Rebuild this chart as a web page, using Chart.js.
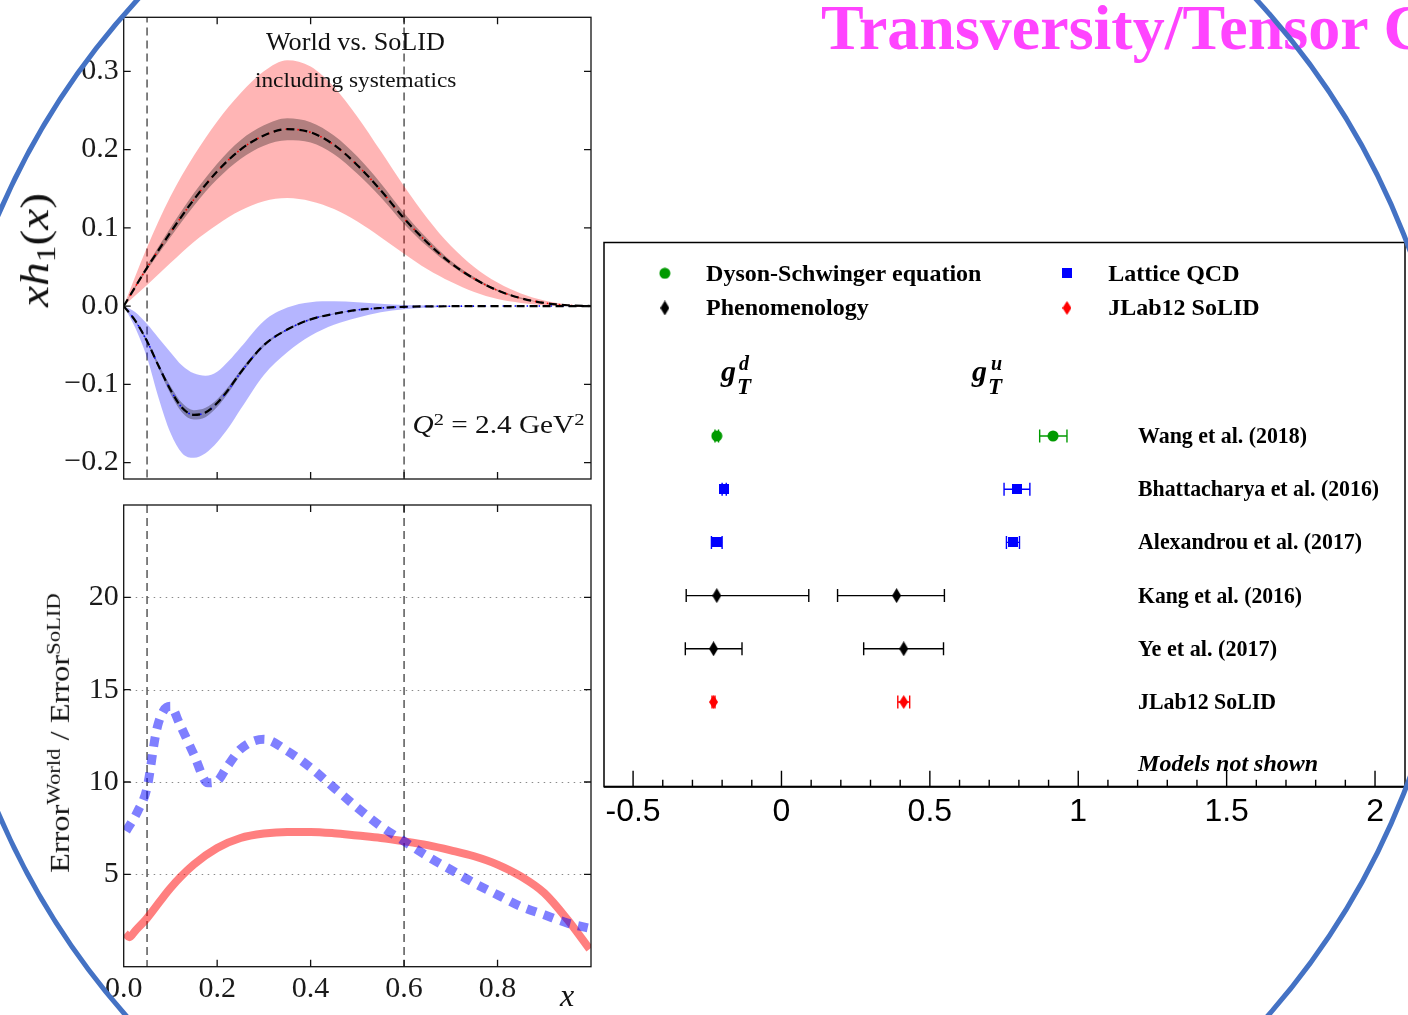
<!DOCTYPE html>
<html><head><meta charset="utf-8">
<script src="https://cdn.jsdelivr.net/npm/chart.js@4.4.0/dist/chart.umd.min.js"></script>
<style>
html,body{margin:0;padding:0;background:#fff;}
#page{position:relative;width:1408px;height:1015px;overflow:hidden;background:#fff;}
canvas{position:absolute;}
.t{position:absolute;white-space:nowrap;line-height:1;font-family:"Liberation Serif",serif;color:#111;}
.sup{font-size:0.7em;position:relative;top:-0.45em;}
.sub{font-size:0.7em;position:relative;top:0.25em;}
</style></head><body><div id="page">
<canvas id="c1" width="600" height="490" style="left:0;top:0"></canvas>
<canvas id="c2" width="600" height="525" style="left:0;top:490px"></canvas>
<canvas id="c3" width="808" height="600" style="left:600px;top:230px"></canvas>

<div class="t" style="left:821px;top:-3.6px;font-size:64px;font-weight:bold;color:#FF44FF;">Transversity/Tensor C</div>

<div class="t" data-cx="355" data-cy="41.5" data-w="179" style="font-size:25px;">World vs. SoLID</div>
<div class="t" data-cx="355" data-cy="80" data-w="201" style="font-size:21px;">including systematics</div>
<div class="t" data-cx="498" data-cy="424" data-w="172" style="font-size:25px;"><i>Q</i><span class="sup">2</span> = 2.4 GeV<span class="sup">2</span></div>
<div class="t" data-cx="35" data-cy="250" data-w="114" data-rot="-90" style="font-size:40px;"><i>xh</i><span class="sub">1</span>(<i>x</i>)</div>
<div class="t" data-cx="60" data-cy="733" data-w="280" data-rot="-90" style="font-size:28px;">Error<span class="sup">World</span> / Error<span class="sup">SoLID</span></div>
<div class="t" data-cx="567" data-cy="995" style="font-size:32px;"><i>x</i></div>

<div class="t" style="left:721px;top:355.9px;font-size:30px;font-weight:bold;font-style:italic;color:#000;">g</div>
<div class="t" style="left:737px;top:374.9px;font-size:23px;font-weight:bold;font-style:italic;color:#000;">T</div>
<div class="t" style="left:739px;top:353.3px;font-size:20px;font-weight:bold;font-style:italic;color:#000;">d</div>
<div class="t" style="left:972px;top:355.9px;font-size:30px;font-weight:bold;font-style:italic;color:#000;">g</div>
<div class="t" style="left:988px;top:374.9px;font-size:23px;font-weight:bold;font-style:italic;color:#000;">T</div>
<div class="t" style="left:991px;top:353.3px;font-size:20px;font-weight:bold;font-style:italic;color:#000;">u</div>

<svg width="1408" height="1015" style="position:absolute;left:0;top:0;pointer-events:none">
<circle cx="697" cy="514" r="760" fill="none" stroke="#4472C4" stroke-width="5"/>
</svg>
</div>
<script>
// ================= DATA =================
// top panel: x*h1(x), u quark (positive) and d quark (negative)
const uX       = [0,0.05,0.1,0.15,0.2,0.25,0.3,0.35,0.4,0.45,0.5,0.55,0.6,0.65,0.7,0.75,0.8,0.85,0.9,0.95,1.0];
const uCentral = [0,0.049,0.094,0.136,0.172,0.200,0.218,0.226,0.222,0.206,0.180,0.148,0.112,0.081,0.055,0.035,0.020,0.010,0.004,0.001,0];
const uWorldHi = [0,0.075,0.140,0.192,0.236,0.272,0.300,0.314,0.306,0.280,0.242,0.198,0.153,0.112,0.077,0.050,0.030,0.016,0.007,0.002,0];
const uWorldLo = [0,0.027,0.055,0.082,0.104,0.122,0.134,0.138,0.134,0.124,0.108,0.088,0.067,0.047,0.031,0.018,0.009,0.004,0.001,0,0];
const uSolidHi = [0,0.052,0.100,0.144,0.182,0.212,0.231,0.240,0.235,0.218,0.191,0.157,0.119,0.086,0.058,0.037,0.021,0.011,0.004,0.001,0];
const uSolidLo = [0,0.046,0.088,0.128,0.162,0.188,0.205,0.212,0.209,0.194,0.169,0.139,0.105,0.076,0.052,0.033,0.019,0.009,0.004,0.001,0];

const dX       = [0,0.025,0.05,0.075,0.1,0.125,0.15,0.175,0.2,0.225,0.25,0.3,0.35,0.4,0.45,0.5,0.55,0.6,0.7,0.8,0.9,1.0];
const dCentral = [0,-0.019,-0.045,-0.077,-0.107,-0.130,-0.139,-0.136,-0.124,-0.106,-0.085,-0.050,-0.030,-0.017,-0.010,-0.005,-0.0025,-0.001,-0.0002,0,0,0];
const dWorldHi = [0,-0.008,-0.023,-0.041,-0.059,-0.076,-0.086,-0.089,-0.084,-0.070,-0.053,-0.019,-0.002,0.005,0.006,0.005,0.003,0.0015,0.0003,0,0,0];
const dWorldLo = [0,-0.028,-0.066,-0.118,-0.162,-0.188,-0.194,-0.188,-0.174,-0.155,-0.132,-0.088,-0.059,-0.038,-0.024,-0.015,-0.008,-0.004,-0.001,0,0,0];
const dSolidHi = [0,-0.018,-0.043,-0.074,-0.102,-0.124,-0.133,-0.130,-0.119,-0.102,-0.082,-0.048,-0.029,-0.016,-0.0096,-0.0048,-0.0024,-0.001,-0.0002,0,0,0];
const dSolidLo = [0,-0.020,-0.047,-0.080,-0.112,-0.136,-0.145,-0.142,-0.129,-0.110,-0.088,-0.052,-0.031,-0.018,-0.0104,-0.0052,-0.0026,-0.001,-0.0002,0,0,0];

const cutX = [0.05, 0.6];
const topYTicks = [-0.2,-0.1,0,0.1,0.2,0.3];
const panelXTicks = [0.2,0.4,0.6,0.8];

// bottom panel: Error(World)/Error(SoLID)
const uRatioX = [0.003,0.012,0.025,0.05,0.1,0.15,0.2,0.25,0.3,0.35,0.4,0.45,0.5,0.55,0.6,0.65,0.7,0.75,0.8,0.85,0.9,0.95,0.997];
const uRatio  = [1.8,1.6,1.95,2.63,4.26,5.53,6.43,6.97,7.21,7.30,7.30,7.23,7.10,6.97,6.79,6.58,6.30,5.98,5.53,4.89,3.99,2.54,0.95];
const dRatioX = [0.005,0.03,0.05,0.07,0.085,0.1,0.12,0.15,0.18,0.2,0.22,0.25,0.3,0.35,0.4,0.45,0.5,0.55,0.6,0.65,0.7,0.75,0.8,0.85,0.9,0.95,0.997];
const dRatio  = [7.34,8.42,9.69,12.77,13.85,14.1,13.13,11.5,9.96,10.05,10.78,11.78,12.32,11.68,10.78,9.69,8.61,7.61,6.79,5.98,5.25,4.53,3.89,3.26,2.81,2.36,2.08];
const botXTickLabels = [0,0.2,0.4,0.6,0.8];
const botYTicks = [5,10,15,20];

// right panel: tensor charges
const refs  = ["Wang et al. (2018)","Bhattacharya et al. (2016)","Alexandrou et al. (2017)","Kang et al. (2016)","Ye et al. (2017)","JLab12 SoLID"];
const group = ["dse","lat","lat","phe","phe","sol"];
const gTd   = [-0.218,-0.193,-0.218,-0.218,-0.229,-0.229];
const gTdLo = [-0.224,-0.200,-0.236,-0.321,-0.324,-0.234];
const gTdHi = [-0.212,-0.186,-0.200,0.092,-0.133,-0.224];
const gTu   = [0.915,0.793,0.780,0.388,0.412,0.412];
const gTuLo = [0.870,0.750,0.758,0.189,0.277,0.392];
const gTuHi = [0.962,0.837,0.802,0.549,0.546,0.432];
const legendNames = {dse:"Dyson-Schwinger equation", lat:"Lattice QCD", phe:"Phenomenology", sol:"JLab12 SoLID"};
const rightMajorTicks = [-0.5,0,0.5,1,1.5,2];

// ================= STYLE / LAYOUT =================
const groupColor = {dse:"#009a00", lat:"#0000ff", phe:"#000000", sol:"#ff0000"};
const legendLayout = [{g:"dse",mx:-0.393,tx:-0.254,y:-3.058},{g:"lat",mx:0.962,tx:1.101,y:-3.058},
                      {g:"phe",mx:-0.393,tx:-0.254,y:-2.406},{g:"sol",mx:0.962,tx:1.101,y:-2.406}];
const rowLabelX = 1.2015, rowLabelW = [169,241,224,164,139,138];

Chart.defaults.animation = false;
Chart.defaults.events = [];
Chart.defaults.plugins.legend.display = false;
Chart.defaults.plugins.tooltip.enabled = false;

const pts = (xs, ys) => xs.map((x,i)=>({x, y: ys[i]}));
const fmt1 = v => (v < -1e-9 ? "\u2212" : "") + Math.abs(v).toFixed(1);
function noPad(s){ s.paddingTop=0; s.paddingBottom=0; s.paddingLeft=0; s.paddingRight=0; }

// point-style canvases
function mk(w,h,draw){const c=document.createElement('canvas');c.width=w;c.height=h;const x=c.getContext('2d');draw(x,w,h);return c;}
const markers = {
  dse: mk(12,12,(x)=>{x.fillStyle=groupColor.dse;x.beginPath();x.arc(6,6,5.5,0,Math.PI*2);x.fill();}),
  lat: mk(10,10,(x)=>{x.fillStyle=groupColor.lat;x.fillRect(0,0,10,10);}),
  phe: mk(9,15,(x)=>{x.fillStyle=groupColor.phe;x.beginPath();x.moveTo(4.5,0);x.lineTo(9,7.5);x.lineTo(4.5,15);x.lineTo(0,7.5);x.closePath();x.fill();}),
  sol: mk(9,14,(x)=>{x.fillStyle=groupColor.sol;x.beginPath();x.moveTo(4.5,0);x.lineTo(9,7);x.lineTo(4.5,14);x.lineTo(0,7);x.closePath();x.fill();})
};

// frame plugin: box, inward ticks, optional dotted grid
const framePlugin = {
  id:'frame',
  beforeDatasetsDraw(chart, args, o){
    if(!o.grid) return;
    const {ctx, chartArea:a, scales:{y}} = chart;
    ctx.save(); ctx.strokeStyle='#8a8a8a'; ctx.lineWidth=1.2; ctx.setLineDash([1.5,4.5]);
    ctx.beginPath();
    o.grid.forEach(v=>{const py=Math.round(y.getPixelForValue(v))+0.5; ctx.moveTo(a.left,py); ctx.lineTo(a.right,py);});
    ctx.stroke(); ctx.restore();
  },
  afterDatasetsDraw(chart, args, o){
    const {ctx, chartArea:a, scales:{x,y}} = chart;
    ctx.save(); ctx.strokeStyle='#111'; ctx.lineWidth=1.3; ctx.setLineDash([]);
    const tl = 7;
    ctx.beginPath();
    (o.xTicks||[]).forEach(v=>{const px=x.getPixelForValue(v);
      ctx.moveTo(px,a.bottom); ctx.lineTo(px,a.bottom-tl); ctx.moveTo(px,a.top); ctx.lineTo(px,a.top+tl);});
    (o.yTicks||[]).forEach(v=>{const py=y.getPixelForValue(v);
      ctx.moveTo(a.left,py); ctx.lineTo(a.left+tl,py); ctx.moveTo(a.right,py); ctx.lineTo(a.right-tl,py);});
    ctx.stroke();
    ctx.strokeRect(a.left,a.top,a.width,a.height);
    ctx.restore();
  }
};

// ================= TOP PANEL =================
const topDs = [];
cutX.forEach(v=>topDs.push({data:[{x:v,y:-1},{x:v,y:1}], borderColor:'rgba(0,0,0,0.55)', borderWidth:1.8, borderDash:[8,5], order:30, clip:0}));
function band(xs, lo, hi, color, order){
  topDs.push({data:pts(xs,lo), borderColor:'transparent', borderWidth:1, fill:false, order, cubicInterpolationMode:'monotone'});
  topDs.push({data:pts(xs,hi), borderColor:'transparent', borderWidth:1, fill:'-1', backgroundColor:color, order, cubicInterpolationMode:'monotone'});
}
band(uX,uWorldLo,uWorldHi,'rgba(255,0,0,0.29)',20);
band(dX,dWorldLo,dWorldHi,'rgba(0,0,255,0.29)',20);
band(uX,uSolidLo,uSolidHi,'rgba(0,0,0,0.30)',10);
band(dX,dSolidLo,dSolidHi,'rgba(0,0,0,0.30)',10);
topDs.push({data:pts(uX,uCentral), borderColor:'#ff0000', borderWidth:1.6, borderDash:[1.5,4.5], order:3, cubicInterpolationMode:'monotone'});
topDs.push({data:pts(dX,dCentral), borderColor:'#0000ff', borderWidth:1.6, borderDash:[1.5,4.5], order:3, cubicInterpolationMode:'monotone'});
topDs.push({data:pts(uX,uCentral), borderColor:'#000', borderWidth:2.2, borderDash:[8,5], order:2, cubicInterpolationMode:'monotone'});
topDs.push({data:pts(dX,dCentral), borderColor:'#000', borderWidth:2.2, borderDash:[8,5], order:2, cubicInterpolationMode:'monotone'});

const serifTick = {family:'Liberation Serif', size:30};
new Chart(document.getElementById('c1'), {
  type:'line', data:{datasets:topDs},
  options:{
    responsive:false, layout:{autoPadding:false, padding:{left:0,top:17.3,right:9,bottom:0}},
    elements:{point:{radius:0}},
    plugins:{frame:{xTicks:panelXTicks, yTicks:topYTicks}},
    scales:{
      x:{type:'linear',min:0,max:1,grid:{display:false,drawTicks:false},border:{display:false},ticks:{display:false},
         afterFit(s){s.height=11; noPad(s);}},
      y:{type:'linear',min:-0.221,max:0.369,grid:{display:false,drawTicks:false},border:{display:false},
         afterBuildTicks(s){s.ticks=topYTicks.map(v=>({value:v}));},
         ticks:{padding:5,color:'#1a1a1a',font:serifTick,callback:v=>fmt1(v)},
         afterFit(s){s.width=123.7; noPad(s);}}
    }
  },
  plugins:[framePlugin]
});

// ================= BOTTOM PANEL =================
const botDs = [];
cutX.forEach(v=>botDs.push({data:[{x:v,y:-5},{x:v,y:30}], borderColor:'rgba(0,0,0,0.55)', borderWidth:1.8, borderDash:[8,5], order:30, clip:0}));
botDs.push({data:pts(uRatioX,uRatio), borderColor:'rgba(255,0,0,0.5)', borderWidth:8, borderCapStyle:'butt', order:5, cubicInterpolationMode:'monotone'});
botDs.push({data:pts(dRatioX,dRatio), borderColor:'rgba(0,0,255,0.5)', borderWidth:9, borderDash:[10,8], borderCapStyle:'butt', order:4, cubicInterpolationMode:'monotone'});

new Chart(document.getElementById('c2'), {
  type:'line', data:{datasets:botDs},
  options:{
    responsive:false, layout:{autoPadding:false, padding:{left:0,top:15,right:9,bottom:0}},
    elements:{point:{radius:0}},
    plugins:{frame:{xTicks:panelXTicks, yTicks:botYTicks, grid:botYTicks}},
    scales:{
      x:{type:'linear',min:0,max:1,grid:{display:false,drawTicks:false},border:{display:false},
         afterBuildTicks(s){s.ticks=botXTickLabels.map(v=>({value:v}));},
         ticks:{padding:4,color:'#1a1a1a',font:serifTick,maxRotation:0,autoSkip:false,callback:v=>fmt1(v)},
         afterFit(s){s.height=48.3; noPad(s);}},
      y:{type:'linear',min:0,max:25,grid:{display:false,drawTicks:false},border:{display:false},
         afterBuildTicks(s){s.ticks=botYTicks.map(v=>({value:v}));},
         ticks:{padding:5,color:'#1a1a1a',font:serifTick,callback:v=>String(v)},
         afterFit(s){s.width=123.7; noPad(s);}}
    }
  },
  plugins:[framePlugin]
});

// ================= RIGHT PANEL =================
const rDs = [];
refs.forEach((r,i)=>{
  const col = groupColor[group[i]];
  [[gTdLo,gTdHi],[gTuLo,gTuHi]].forEach(([lo,hi])=>{
    rDs.push({data:[{x:lo[i],y:i},{x:hi[i],y:i}], borderColor:col, borderWidth:1.4, showLine:true,
      pointStyle:'line', pointRotation:90, pointRadius:6.5, pointBorderWidth:1.4, pointBorderColor:col, pointBackgroundColor:col, order:2});
  });
});
["dse","lat","phe","sol"].forEach(g=>{
  const data=[];
  refs.forEach((r,i)=>{ if(group[i]===g){ data.push({x:gTd[i],y:i}); data.push({x:gTu[i],y:i}); } });
  rDs.push({data, showLine:false, pointStyle:markers[g], pointRadius:6, order:1});
});

const rightDecor = {
  id:'rightDecor',
  afterDatasetsDraw(chart){
    const {ctx, chartArea:a, scales:{x,y}} = chart;
    ctx.save();
    ctx.strokeStyle='#000'; ctx.lineWidth=1.5; ctx.strokeRect(a.left,a.top,a.width,a.height);
    ctx.lineWidth=2; ctx.beginPath(); ctx.moveTo(a.left,a.bottom); ctx.lineTo(a.right,a.bottom); ctx.stroke();
    ctx.lineWidth=1.4; ctx.beginPath();
    for(let k=-5;k<=20;k++){ const px=x.getPixelForValue(k/10); const major=(k%5===0);
      ctx.moveTo(px,a.bottom); ctx.lineTo(px,a.bottom-(major?16:7)); }
    ctx.stroke();
    // legend
    ctx.fillStyle='#000'; ctx.textBaseline='alphabetic'; ctx.font='bold 24px "Liberation Serif"';
    legendLayout.forEach(L=>{
      const m=markers[L.g], px=x.getPixelForValue(L.mx), py=y.getPixelForValue(L.y);
      ctx.drawImage(m, px-m.width/2, py-m.height/2);
      ctx.fillText(legendNames[L.g], x.getPixelForValue(L.tx), py+7.5);
    });
    // row labels
    refs.forEach((r,i)=>{
      const px=x.getPixelForValue(rowLabelX), py=y.getPixelForValue(i)+7;
      const w=ctx.measureText(r).width;
      ctx.save(); ctx.translate(px,py); ctx.scale(rowLabelW[i]/w,1); ctx.fillText(r,0,0); ctx.restore();
    });
    ctx.font='italic bold 24px "Liberation Serif"';
    ctx.fillText('Models not shown', x.getPixelForValue(rowLabelX), y.getPixelForValue(6.297));
    ctx.restore();
  }
};

new Chart(document.getElementById('c3'), {
  type:'line', data:{datasets:rDs},
  options:{
    responsive:false, layout:{autoPadding:false, padding:{left:4,top:12.5,right:3,bottom:0}},
    scales:{
      x:{type:'linear',min:-0.598,max:2.101,grid:{display:false,drawTicks:false},border:{display:false},
         afterBuildTicks(s){s.ticks=rightMajorTicks.map(v=>({value:v}));},
         ticks:{padding:6,color:'#000',font:{family:'Liberation Sans',size:32},maxRotation:0,autoSkip:false,callback:v=>String(v)},
         afterFit(s){s.height=43.3; noPad(s);}},
      y:{type:'linear',reverse:true,min:-3.637,max:6.592,display:false}
    }
  },
  plugins:[rightDecor]
});

// ================= fit HTML labels =================
function place(){
  document.querySelectorAll('[data-cx]').forEach(el=>{
    el.style.transform='none'; el.style.left='0px'; el.style.top='0px';
    const w=el.offsetWidth, h=el.offsetHeight;
    const cx=+el.dataset.cx, cy=+el.dataset.cy;
    el.style.left=(cx-w/2)+'px'; el.style.top=(cy-h/2)+'px';
    let tr = el.dataset.rot ? `rotate(${el.dataset.rot}deg) ` : '';
    if(el.dataset.w) tr += `scaleX(${(+el.dataset.w)/w})`;
    el.style.transform = tr || 'none';
  });
}
place();
if(document.fonts && document.fonts.ready) document.fonts.ready.then(place);
</script>
</body></html>
